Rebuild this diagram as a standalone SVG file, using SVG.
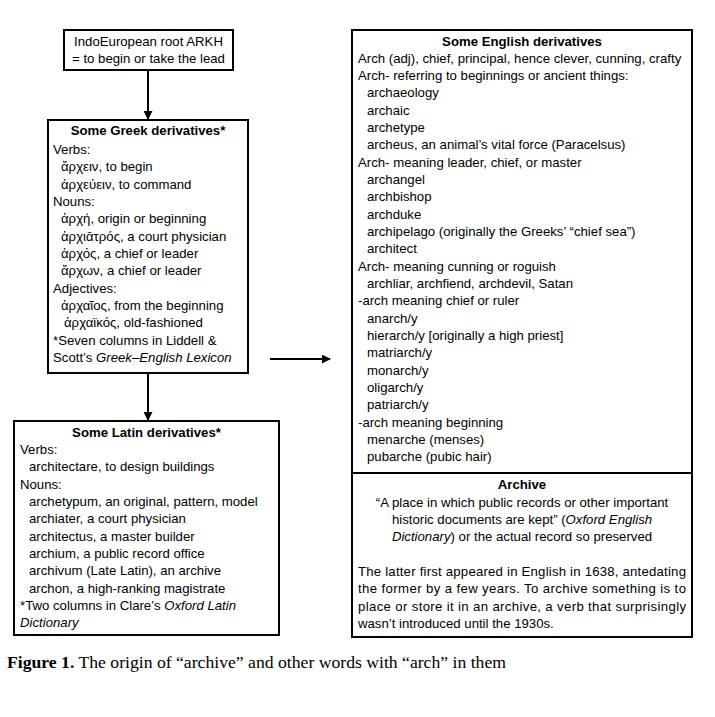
<svg xmlns="http://www.w3.org/2000/svg" width="715" height="717" viewBox="0 0 715 717">
<style>
.box{fill:#fff;stroke:#000;stroke-width:2}
.t{font-family:"Liberation Sans",Arial,sans-serif;font-size:13.2px;fill:#000}
.b{font-weight:bold}
.c{text-anchor:middle}
.i{font-style:italic}
.ln{stroke:#000;stroke-width:2;fill:none}
.cap{font-family:"Liberation Serif","Times New Roman",serif;font-size:17px;fill:#000}
</style>
<defs>
<marker id="ah" viewBox="0 0 10 10" refX="9" refY="5" markerWidth="4.5" markerHeight="4.5" orient="auto"><path d="M0,0 L10,5 L0,10 z" fill="#000"/></marker>
</defs>
<rect width="715" height="717" fill="#fff"/>
<g id="connectors">
<line class="ln" x1="148" y1="70" x2="148" y2="119" marker-end="url(#ah)"/>
<line class="ln" x1="148" y1="373" x2="148" y2="420" marker-end="url(#ah)"/>
<line class="ln" x1="270" y1="359" x2="330" y2="359" marker-end="url(#ah)"/>
</g>
<g id="root">
<rect class="box" x="64" y="30" width="169" height="40"/>
<text class="t c" x="148.5" y="46">IndoEuropean root ARKH</text>
<text class="t c" x="148.5" y="63">= to begin or take the lead</text>
</g>
<g id="greek">
<rect class="box" x="48" y="120" width="200" height="253"/>
<text class="t b c" x="148" y="135">Some Greek derivatives*</text>
<text class="t" x="53" y="154">Verbs:</text>
<text class="t" x="61" y="171">ἄρχειν, to begin</text>
<text class="t" x="61" y="189">ἀρχεύειν, to command</text>
<text class="t" x="53" y="206">Nouns:</text>
<text class="t" x="61" y="223">ἀρχή, origin or beginning</text>
<text class="t" x="61" y="241">ἀρχιᾱτρός, a court physician</text>
<text class="t" x="61" y="258">ἀρχός, a chief or leader</text>
<text class="t" x="61" y="275">ἄρχων, a chief or leader</text>
<text class="t" x="53" y="293">Adjectives:</text>
<text class="t" x="61" y="310">ἀρχαῖος, from the beginning</text>
<text class="t" x="64" y="327">ἀρχαϊκός, old-fashioned</text>
<text class="t" x="53" y="345">*Seven columns in Liddell &amp;</text>
<text class="t" x="53" y="362">Scott’s <tspan class="i">Greek–English Lexicon</tspan></text>
</g>
<g id="latin">
<rect class="box" x="14" y="421" width="265" height="214"/>
<text class="t b c" x="146.5" y="437">Some Latin derivatives*</text>
<text class="t" x="20" y="454">Verbs:</text>
<text class="t" x="29" y="471">architectare, to design buildings</text>
<text class="t" x="20" y="489">Nouns:</text>
<text class="t" x="29" y="506">archetypum, an original, pattern, model</text>
<text class="t" x="29" y="523">archiater, a court physician</text>
<text class="t" x="29" y="541">architectus, a master builder</text>
<text class="t" x="29" y="558">archium, a public record office</text>
<text class="t" x="29" y="575">archivum (Late Latin), an archive</text>
<text class="t" x="29" y="593">archon, a high-ranking magistrate</text>
<text class="t" x="20" y="610">*Two columns in Clare’s <tspan class="i">Oxford Latin</tspan></text>
<text class="t i" x="20" y="627">Dictionary</text>
</g>
<g id="english">
<rect class="box" x="352" y="30" width="340" height="443"/>
<text class="t b c" x="522" y="46">Some English derivatives</text>
<text class="t" x="358" y="63">Arch (adj), chief, principal, hence clever, cunning, crafty</text>
<text class="t" x="358" y="80">Arch- referring to beginnings or ancient things:</text>
<text class="t" x="367" y="97">archaeology</text>
<text class="t" x="367" y="115">archaic</text>
<text class="t" x="367" y="132">archetype</text>
<text class="t" x="367" y="149">archeus, an animal’s vital force (Paracelsus)</text>
<text class="t" x="358" y="167">Arch- meaning leader, chief, or master</text>
<text class="t" x="367" y="184">archangel</text>
<text class="t" x="367" y="201">archbishop</text>
<text class="t" x="367" y="219">archduke</text>
<text class="t" x="367" y="236">archipelago (originally the Greeks’ “chief sea”)</text>
<text class="t" x="367" y="253">architect</text>
<text class="t" x="358" y="271">Arch- meaning cunning or roguish</text>
<text class="t" x="367" y="288">archliar, archfiend, archdevil, Satan</text>
<text class="t" x="358" y="305">-arch meaning chief or ruler</text>
<text class="t" x="367" y="323">anarch/y</text>
<text class="t" x="367" y="340">hierarch/y [originally a high priest]</text>
<text class="t" x="367" y="357">matriarch/y</text>
<text class="t" x="367" y="375">monarch/y</text>
<text class="t" x="367" y="392">oligarch/y</text>
<text class="t" x="367" y="409">patriarch/y</text>
<text class="t" x="358" y="427">-arch meaning beginning</text>
<text class="t" x="367" y="444">menarche (menses)</text>
<text class="t" x="367" y="461">pubarche (pubic hair)</text>
</g>
<g id="archive">
<rect class="box" x="352" y="473" width="340" height="164"/>
<text class="t b c" x="522" y="489">Archive</text>
<text class="t c" x="522" y="507">“A place in which public records or other important</text>
<text class="t c" x="522" y="524">historic documents are kept” (<tspan class="i">Oxford English</tspan></text>
<text class="t c" x="522" y="541"><tspan class="i">Dictionary</tspan>) or the actual record so preserved</text>
<text class="t" x="358" y="576" textLength="328" lengthAdjust="spacing">The latter first appeared in English in 1638, antedating</text>
<text class="t" x="358" y="593" textLength="328" lengthAdjust="spacing">the former by a few years. To archive something is to</text>
<text class="t" x="358" y="611" textLength="328" lengthAdjust="spacing">place or store it in an archive, a verb that surprisingly</text>
<text class="t" x="358" y="628">wasn’t introduced until the 1930s.</text>
</g>
<text class="cap" x="7" y="668" textLength="499" lengthAdjust="spacingAndGlyphs"><tspan font-weight="bold">Figure 1.</tspan> The origin of “archive” and other words with “arch” in them</text>
</svg>
